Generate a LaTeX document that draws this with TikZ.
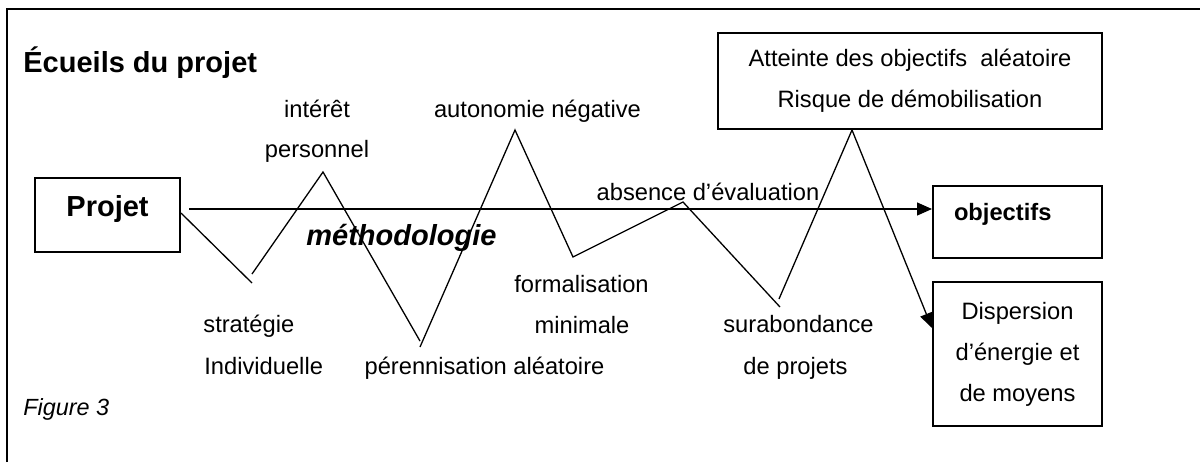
\documentclass[tikz,border=0pt]{standalone}
\usepackage{fontspec}
\setmainfont{Liberation Sans}
\usetikzlibrary{arrows.meta}
\begin{document}
\begin{tikzpicture}[x=0.5pt,y=-0.5pt,
  txt/.style={font=\fontsize{11.85pt}{20.5pt}\selectfont},
  big/.style={font=\bfseries\fontsize{14.5pt}{17pt}\selectfont},
  lbl/.style={txt, inner sep=0pt, anchor=base},
  box/.style={draw, line width=1pt, inner sep=0pt},
  zig/.style={line width=0.65pt, line join=miter},
  tip/.style={-{Triangle[length=7.5pt,width=6.5pt]}},
]
\useasboundingbox (0,0) rectangle (1200,462);
% frame
\draw[line width=1pt] (7,462) -- (7,9) -- (1200,9);

% title and caption
\node[big, inner sep=0pt, anchor=base west] (title) at (23,72) {Écueils du projet};
\node[txt, inner sep=0pt, anchor=base west, font=\itshape\fontsize{11.7pt}{14pt}\selectfont] (fig) at (23,415) {Figure 3};

% boxes
\node[box, big, minimum width=72.5pt, minimum height=37pt, text height=10pt, text depth=9pt] (proj) at (107.5,215) {Projet};
\node[box, txt, font=\bfseries\fontsize{11.85pt}{14pt}\selectfont, minimum width=84.5pt, minimum height=36pt,
      inner xsep=10.5pt, text width=63.5pt, align=left, text height=8pt, text depth=10pt] (obj) at (1017.5,222) {objectifs};
\node[box, txt, minimum width=192pt, minimum height=48pt, align=center] (top) at (910,81)
  {Atteinte des objectifs~ aléatoire\\Risque de démobilisation};
\node[box, txt, minimum width=84.5pt, minimum height=72pt, align=center] (disp) at (1017.5,354)
  {Dispersion\\d’énergie et\\de moyens};

% main axis
\coordinate (a0) at (189,209);
\draw[line width=0.65pt, tip] (a0) -- (obj.west |- a0);
\node[lbl, anchor=base west, font=\bfseries\itshape\fontsize{14.5pt}{17pt}\selectfont] (meth) at (306,245) {méthodologie};

% zigzag of pitfalls
\coordinate (z0) at ([yshift=1pt]proj.east);
\coordinate (z1) at (252,283);
\coordinate (z2) at (252,274);
\coordinate (z3) at (323,172);
\coordinate (z4) at (420,341);
\coordinate (z5) at (420,347);
\coordinate (z6) at (515,130);
\coordinate (z7) at (573,257);
\coordinate (z8) at (683,202);
\coordinate (z9) at (780,307);
\coordinate (z10) at (779,299);
\coordinate (z11) at (top.south -| 852,0);
\coordinate (z12) at ([yshift=13pt]disp.west);
\draw[zig] (z0) -- (z1);
\draw[zig] (z2) -- (z3) -- (z4);
\draw[zig] (z5) -- (z6) -- (z7) -- (z8) -- (z9);
\draw[zig, tip] (z10) -- (z11) -- (z12);

% pitfall labels
\node[lbl] (int1) at (317,117) {intérêt};
\node[lbl] (int2) at (317,157) {personnel};
\node[lbl] (auto) at (537.5,117) {autonomie négative};
\node[lbl] (eval) at (708,200) {absence d’évaluation};
\node[lbl, anchor=base west] (str1) at (203,332) {stratégie};
\node[lbl, anchor=base west] (str2) at (204,374) {Individuelle};
\node[lbl] (pere) at (484.5,374) {pérennisation aléatoire};
\node[lbl] (form1) at (581.5,292) {formalisation};
\node[lbl] (form2) at (582,333) {minimale};
\node[lbl] (sur1) at (798.5,332) {surabondance};
\node[lbl] (sur2) at (795.5,374) {de projets};
\end{tikzpicture}
\end{document}
